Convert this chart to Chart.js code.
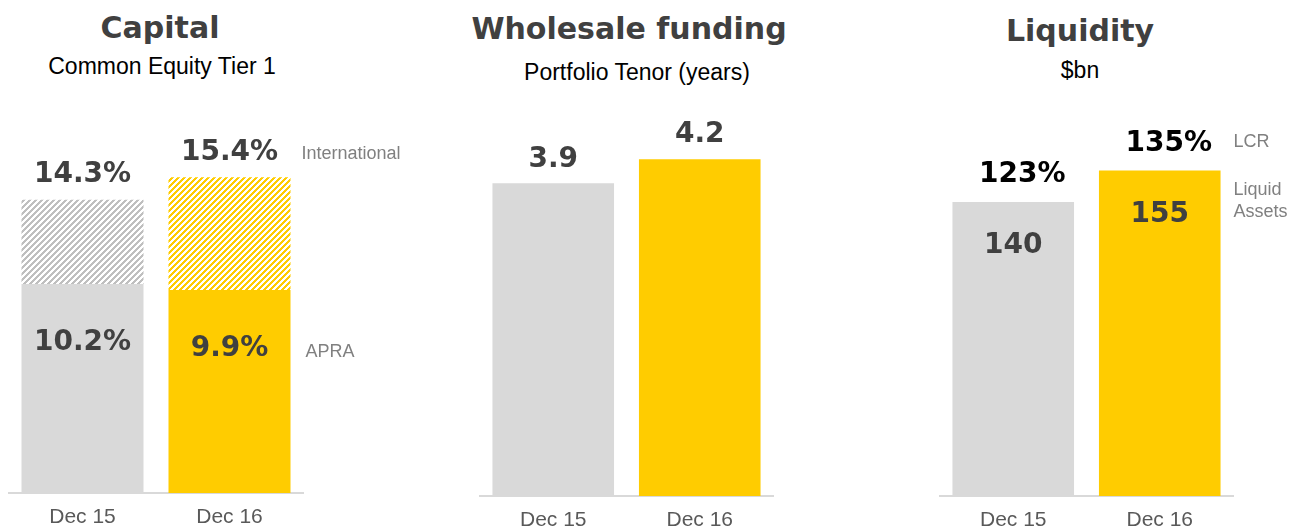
<!DOCTYPE html>
<html>
<head>
<meta charset="utf-8">
<script src="https://cdn.jsdelivr.net/npm/chart.js@4/dist/chart.umd.min.js"></script>
<style>
body { margin: 0; width: 1304px; height: 532px; position: relative; overflow: hidden; background: #fff; }
.box { position: absolute; left: 0; top: 0; width: 1304px; height: 532px; }
.t { position: absolute; transform: translate(-50%, -50%); white-space: nowrap; }
.h { font: bold 30px "DejaVu Sans", sans-serif; color: #404040; }
.s { font: 23px "Liberation Sans", Arial, sans-serif; color: #000; }
</style>
</head>
<body>
<div class="t h" style="left:160px;top:27px">Capital</div>
<div class="t s" style="left:162px;top:66px">Common Equity Tier 1</div>
<div class="t h" style="left:629px;top:28px">Wholesale funding</div>
<div class="t s" style="left:637px;top:72px">Portfolio Tenor (years)</div>
<div class="t h" style="left:1080px;top:30px">Liquidity</div>
<div class="t s" style="left:1080px;top:70px">$bn</div>

<div class="box"><canvas id="capitalChart"></canvas></div>
<div class="box"><canvas id="fundingChart"></canvas></div>
<div class="box"><canvas id="liquidityChart"></canvas></div>

<script>
// values
var periods = ['Dec 15', 'Dec 16'];
var cet1Apra = [10.2, 9.9];
var cet1International = [14.3, 15.4];
var tenorYears = [3.9, 4.2];
var liquidAssets = [140, 155];
var lcrPct = [123, 135];

var GREY = '#d9d9d9';
var YELLOW = '#ffcc00';
var DARK = '#404040';
var NOTE = '#808080';
var VALUE_FONT = 'bold 28px "DejaVu Sans"';
var NOTE_FONT = '18px "Liberation Sans"';

// diagonal "/" stripes, 6px period, half filled
function hatch(color) {
    var c = document.createElement('canvas');
    c.width = 6; c.height = 6;
    var g = c.getContext('2d');
    g.fillStyle = '#fff';
    g.fillRect(0, 0, 6, 6);
    g.fillStyle = color;
    for (var x = 0; x < 6; x++) {
        for (var y = 0; y < 6; y++) {
            if ((x + y) % 6 < 3) g.fillRect(x, y, 1, 1);
        }
    }
    return g.createPattern(c, 'repeat');
}

function text(ctx, str, x, y, font, color, align) {
    ctx.save();
    ctx.font = font;
    ctx.fillStyle = color;
    ctx.textAlign = align || 'center';
    ctx.textBaseline = 'middle';
    ctx.fillText(str, x, y);
    ctx.restore();
}

function baseOptions(pad, yMax, axisHeight) {
    return {
        responsive: false,
        animation: false,
        layout: { padding: pad },
        plugins: { legend: { display: false }, tooltip: { enabled: false } },
        scales: {
            x: {
                stacked: true,
                grid: { display: false, drawTicks: false },
                border: { display: true, color: GREY, width: 2 },
                ticks: { color: '#595959', padding: 12, font: { family: 'Liberation Sans', size: 21 } },
                afterFit: function (s) { s.height = axisHeight; }
            },
            y: { display: false, min: 0, max: yMax }
        }
    };
}

function setup(id) {
    var cv = document.getElementById(id);
    cv.width = 1304; cv.height = 532;
    return cv.getContext('2d');
}

// Capital: APRA bar from zero, International part floats from APRA level up to its own ratio
var capitalLabels = {
    id: 'capitalLabels',
    afterDatasetsDraw: function (chart) {
        var ctx = chart.ctx;
        var apra = chart.getDatasetMeta(0).data;
        var intl = chart.getDatasetMeta(1).data;
        for (var i = 0; i < periods.length; i++) {
            text(ctx, cet1International[i].toFixed(1) + '%', intl[i].x, intl[i].y - 25, VALUE_FONT, DARK);
            text(ctx, cet1Apra[i].toFixed(1) + '%', apra[i].x, apra[i].y + 59, VALUE_FONT, DARK);
        }
        var last = periods.length - 1;
        var right = intl[last].x + intl[last].width / 2;
        text(ctx, 'International', right + 11, intl[last].y - 23, NOTE_FONT, NOTE, 'left');
        text(ctx, 'APRA', right + 15, apra[last].y + 62, NOTE_FONT, NOTE, 'left');
    }
};
new Chart(setup('capitalChart'), {
    type: 'bar',
    data: {
        labels: periods,
        datasets: [{
            label: 'APRA',
            data: cet1Apra,
            backgroundColor: [GREY, YELLOW],
            barPercentage: 0.83,
            categoryPercentage: 1
        }, {
            label: 'International',
            data: periods.map(function (p, i) { return [cet1Apra[i], cet1International[i]]; }),
            backgroundColor: [hatch('#bfbfbf'), hatch(YELLOW)],
            barPercentage: 0.83,
            categoryPercentage: 1
        }]
    },
    options: baseOptions({ left: 9, right: 1001, top: 83, bottom: 0 }, 20, 39),
    plugins: [capitalLabels]
});

// Wholesale funding
var fundingLabels = {
    id: 'fundingLabels',
    afterDatasetsDraw: function (chart) {
        var bars = chart.getDatasetMeta(0).data;
        for (var i = 0; i < bars.length; i++) {
            text(chart.ctx, tenorYears[i].toFixed(1), bars[i].x, bars[i].y - 24, VALUE_FONT, DARK);
        }
    }
};
new Chart(setup('fundingChart'), {
    type: 'bar',
    data: {
        labels: periods,
        datasets: [{
            label: 'Portfolio Tenor',
            data: tenorYears,
            backgroundColor: [GREY, YELLOW],
            barPercentage: 0.83,
            categoryPercentage: 1
        }]
    },
    options: baseOptions({ left: 480, right: 531, top: 95, bottom: 0 }, 5, 36),
    plugins: [fundingLabels]
});

// Liquidity
var liquidityLabels = {
    id: 'liquidityLabels',
    afterDatasetsDraw: function (chart) {
        var ctx = chart.ctx;
        var bars = chart.getDatasetMeta(0).data;
        for (var i = 0; i < bars.length; i++) {
            text(ctx, lcrPct[i] + '%', bars[i].x + 9, bars[i].y - 27, VALUE_FONT, '#000');
            text(ctx, String(liquidAssets[i]), bars[i].x, bars[i].y + 44, VALUE_FONT, DARK);
        }
        var last = bars[bars.length - 1];
        var right = last.x + last.width / 2;
        text(ctx, 'LCR', right + 13, last.y - 28, NOTE_FONT, NOTE, 'left');
        text(ctx, 'Liquid', right + 13, last.y + 20, NOTE_FONT, NOTE, 'left');
        text(ctx, 'Assets', right + 13, last.y + 42, NOTE_FONT, NOTE, 'left');
    }
};
new Chart(setup('liquidityChart'), {
    type: 'bar',
    data: {
        labels: periods,
        datasets: [{
            label: 'Liquid Assets',
            data: liquidAssets,
            backgroundColor: [GREY, YELLOW],
            barPercentage: 0.83,
            categoryPercentage: 1
        }]
    },
    options: baseOptions({ left: 940, right: 71, top: 118, bottom: 0 }, 180, 36),
    plugins: [liquidityLabels]
});
</script>
</body>
</html>
